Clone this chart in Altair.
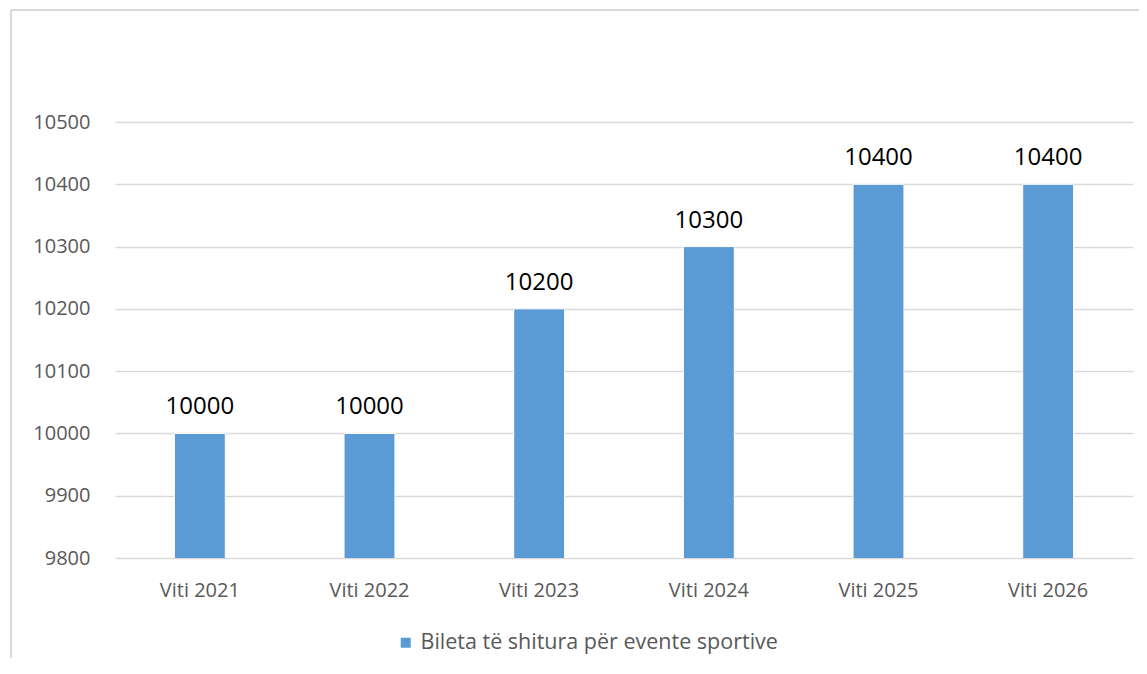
import altair as alt
import pandas as pd

categories = ["Viti 2021", "Viti 2022", "Viti 2023", "Viti 2024", "Viti 2025", "Viti 2026"]
values = [10000, 10000, 10200, 10300, 10400, 10400]
series_name = "Bileta të shitura për evente sportive"
y_ticks = [9800, 9900, 10000, 10100, 10200, 10300, 10400, 10500]

df = pd.DataFrame({"cat": categories, "val": values, "series": [series_name] * len(categories)})

FONT = "Open Sans"
GRAY = "#595959"

x = alt.X("cat:N", sort=categories, title=None,
          scale=alt.Scale(paddingInner=0.7, paddingOuter=0.35),
          axis=alt.Axis(labelAngle=0, ticks=False, domain=False, labelFontSize=20,
                        labelColor=GRAY, labelFont=FONT, labelPadding=22, grid=False))
y = alt.Y("val:Q", title=None,
          scale=alt.Scale(domain=[9800, 10500], zero=False, nice=False),
          axis=alt.Axis(values=y_ticks, format="d", ticks=False, domain=False, labelFontSize=20,
                        labelColor=GRAY, labelFont=FONT, labelPadding=25, grid=True,
                        gridColor="#d9d9d9", gridWidth=1.5))

bars = alt.Chart(df).mark_bar(stroke="white", strokeWidth=1, clip=True).encode(
    x=x, y=y,
    color=alt.Color("series:N", scale=alt.Scale(range=["#5B9BD5"]),
                    legend=alt.Legend(title=None, orient="none", legendX=280, legendY=510,
                                      symbolType="square", symbolSize=100, symbolStrokeWidth=0,
                                      labelFontSize=21.5, labelColor=GRAY, labelFont=FONT,
                                      labelLimit=600)),
)

text = alt.Chart(df).mark_text(dy=-14, baseline="bottom", fontSize=24, font=FONT, color="black").encode(
    x=alt.X("cat:N", sort=categories), y="val:Q", text=alt.Text("val:Q", format="d")
)

border_top = alt.Chart(df).mark_rule(color="#d9d9d9", strokeWidth=1.5, clip=False).encode(
    x=alt.value(-104), x2=alt.value(1030), y=alt.value(-112)
)
border_left = alt.Chart(df).mark_rule(color="#d9d9d9", strokeWidth=1.5, clip=False).encode(
    x=alt.value(-104), y=alt.value(-112), y2=alt.value(560)
)

chart = alt.layer(border_top, border_left, bars, text).properties(
    width=1018, height=436,
    background="white",
    autosize=alt.AutoSizeParams(type="none"),
    padding={"left": 107, "top": 114, "right": 6, "bottom": 100},
).configure_view(stroke=None)

chart.save("out.html", embed_options={"renderer": "svg", "actions": False})
